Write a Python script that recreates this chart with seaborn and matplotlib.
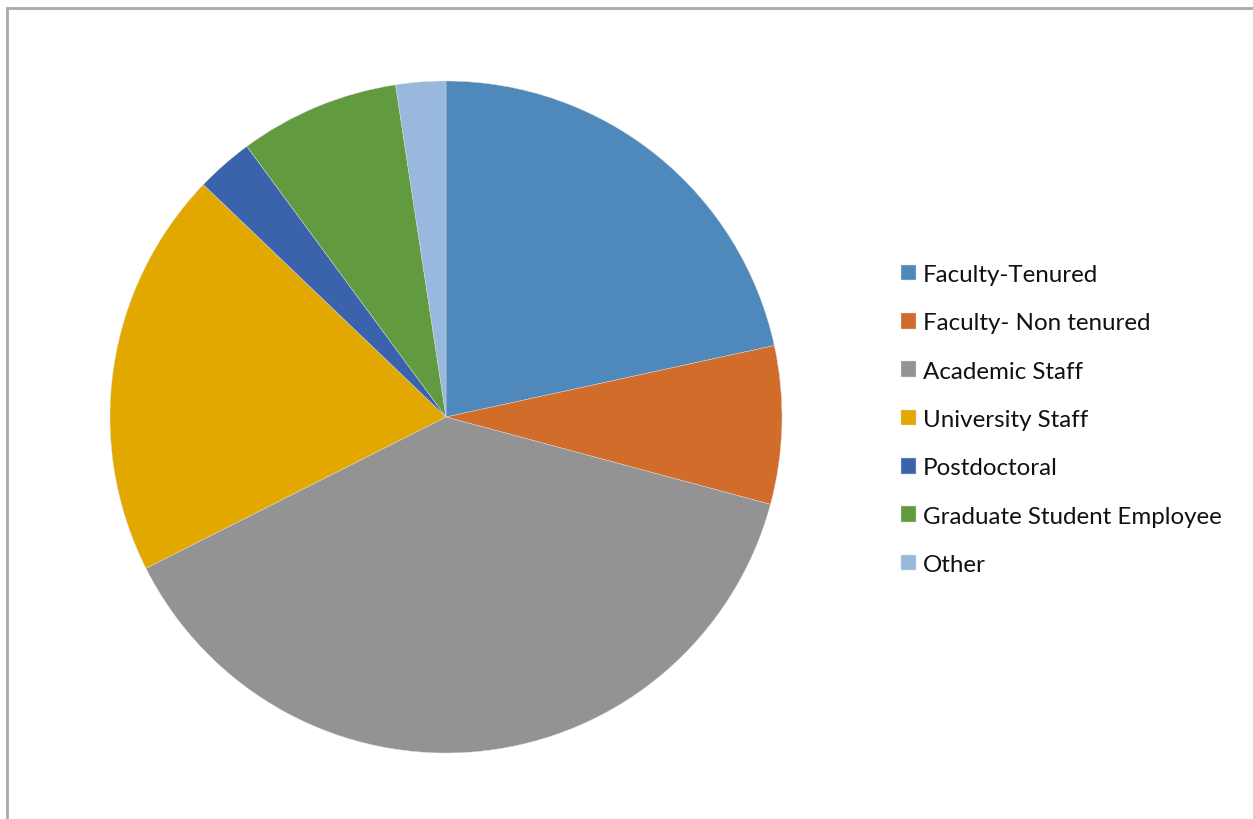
import matplotlib
matplotlib.use("Agg")
import matplotlib.pyplot as plt
import seaborn as sns
from matplotlib.patches import Rectangle

categories = ["Faculty-Tenured", "Faculty- Non tenured", "Academic Staff",
              "University Staff", "Postdoctoral", "Graduate Student Employee", "Other"]
values = [21.6, 7.6, 38.4, 19.6, 2.75, 7.7, 2.4]
colors = ["#4F89BC", "#D26C2A", "#939393", "#E3A800", "#3B63AC", "#629A3F", "#98B8DE"]

sns.set_theme(style="white")
plt.rcParams["font.family"] = ["Lato", "DejaVu Sans"]

W, H = 1253, 820
fig = plt.figure(figsize=(W / 100, H / 100), dpi=100)
fig.patch.set_facecolor("white")

# frame (cut off at right and bottom as in reference)
fig.patches.append(Rectangle((6.5 / W, -0.1), 1.2, 1 - 8.5 / H + 0.1, transform=fig.transFigure,
                             fill=False, edgecolor="#A9A9A9", linewidth=2))

cx, cy, r = 446, 418, 336
ax = fig.add_axes([(cx - r) / W, (H - cy - r) / H, 2 * r / W, 2 * r / H])
pal = sns.color_palette(colors)
wedges, _ = ax.pie(values, colors=pal, startangle=90, counterclock=False,
                   wedgeprops=dict(linewidth=0.3, edgecolor="#dddddd"))
ax.set_xlim(-1, 1)
ax.set_ylim(-1, 1)
ax.set_aspect("equal")
ax.axis("off")

leg = fig.legend(wedges, categories, loc="upper left",
                 bbox_to_anchor=(901 / W, 1 - 265 / H), frameon=False,
                 fontsize=17.4, handlelength=0.62, handleheight=0.62,
                 handletextpad=0.3, labelspacing=1.13, borderaxespad=0, borderpad=0)
for t in leg.get_texts():
    t.set_color("#111111")

fig.savefig("out.png", dpi=100, facecolor="white")
